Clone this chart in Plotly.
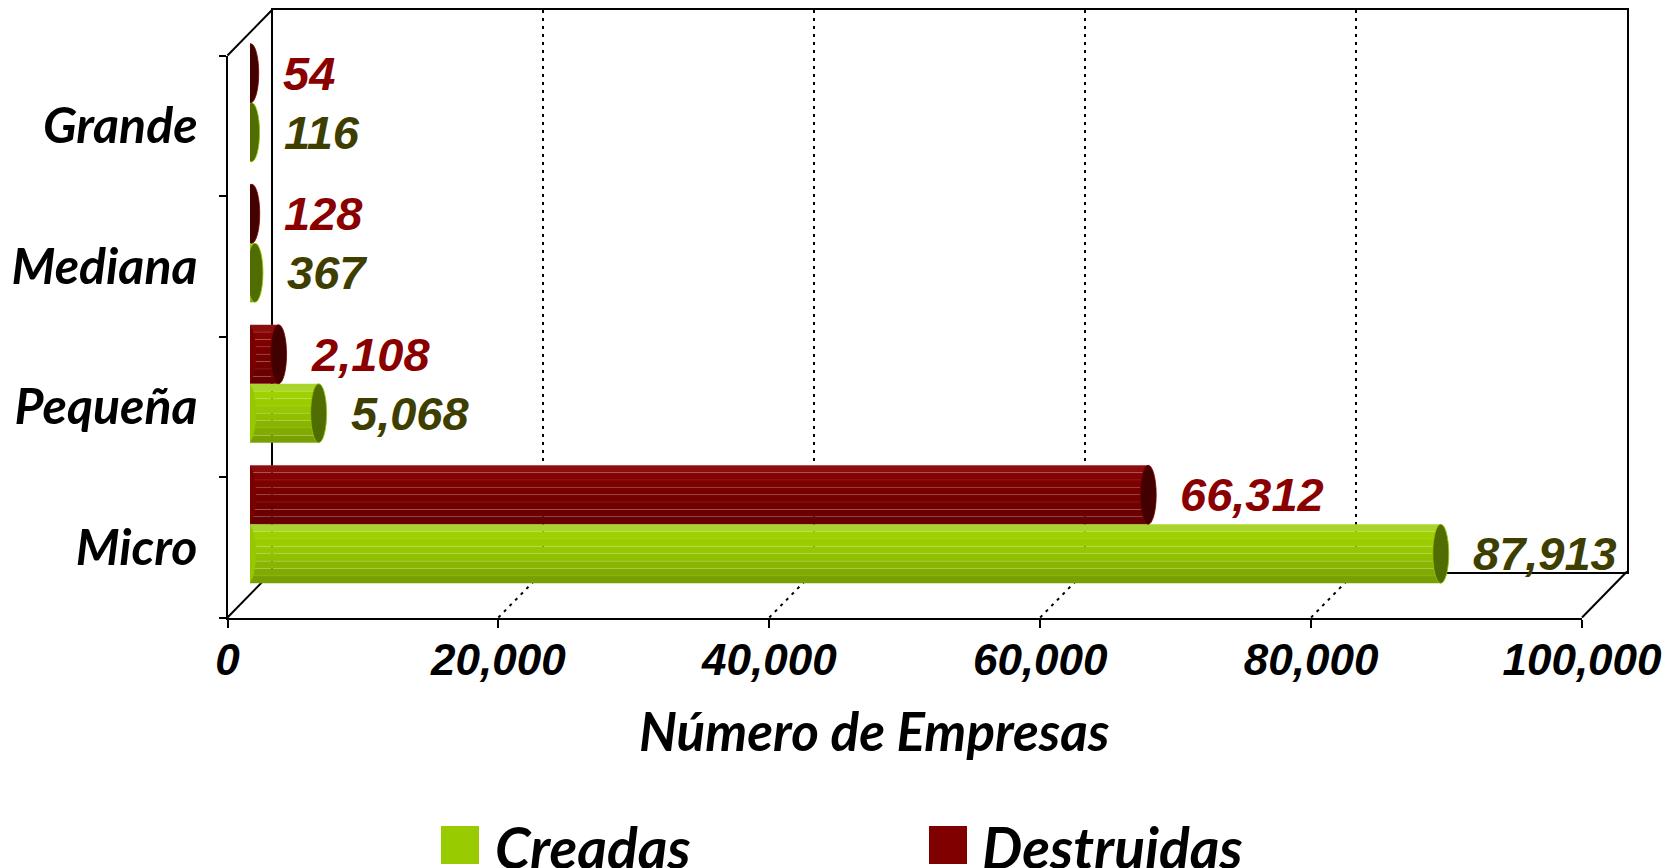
import plotly.graph_objects as go

# ---------------- data ----------------
categories = ["Micro", "Pequeña", "Mediana", "Grande"]
creadas = [87913, 5068, 367, 116]
destruidas = [66312, 2108, 128, 54]
x_ticks = [0, 20000, 40000, 60000, 80000, 100000]
series_names = ["Creadas", "Destruidas"]
x_title = "Número de Empresas"

# ---------------- geometry / style ----------------
W, H = 1675, 868
OFF = 8  # page body margin
def px(x):
    return (x - OFF) / W
def py(y):
    return 1 - (y - OFF) / H

FX0, FX1, FYT, FYB = 227.5, 1582.0, 55.5, 617.5   # front frame (pixels)
DX, DY = 45.0, -46.0                                # depth offset to back plane
MX, MY = DX / 2, DY / 2                             # bars sit mid-depth

GREEN_BANDS = ["#a9d42a", "#9fd000", "#9acc00", "#96c700", "#90bf00", "#89b500", "#81ab00", "#78a000"]
RED_BANDS = ["#8c0d0d", "#840202", "#7e0000", "#790000", "#750000", "#710000", "#6c0000", "#670000"]
GREEN_CAP, RED_CAP = "#4f6d00", "#420000"
GREEN_BODY, RED_BODY = "#95c800", "#7a0000"
GREEN_LABEL, RED_LABEL = "#3e3e00", "#8a0000"

BAR_W = 0.42
LATO = "Lato, 'Open Sans', sans-serif"
ARIAL = "'Liberation Sans', Arial, sans-serif"

fig = go.Figure()

# dummy traces to create the back (x/y) and front (x2/y2) frames
fig.add_trace(go.Scatter(x=[], y=[], xaxis="x", yaxis="y", showlegend=False, hoverinfo="skip"))
fig.add_trace(go.Scatter(x=[0] * len(categories), y=categories, xaxis="x2", yaxis="y2",
                         mode="markers", marker=dict(opacity=0), showlegend=False, hoverinfo="skip"))

# cylinder-like bars built from horizontal colour bands
n = len(GREEN_BANDS)
bw = BAR_W / n
for vals, bands, top in [(creadas, GREEN_BANDS, 0.0), (destruidas, RED_BANDS, BAR_W)]:
    for k, col in enumerate(bands):
        fig.add_trace(go.Bar(
            x=vals, y=categories, orientation="h", xaxis="x3", yaxis="y3",
            width=bw, offset=top - (k + 1) * bw,
            marker=dict(color=col, line=dict(color="rgba(255,255,255,0.13)", width=0.6)),
            showlegend=False, hoverinfo="skip"))

shapes = []
annotations = []

# end caps of cylinders
for vals, body, cap, y_lo in [(creadas, GREEN_BODY, GREEN_CAP, -BAR_W), (destruidas, RED_BODY, RED_CAP, 0.0)]:
    for i, v in enumerate(vals):
        shapes.append(dict(type="circle", xref="x3", yref="y3", xsizemode="pixel", xanchor=0,
                           x0=-10, x1=6, y0=i + y_lo, y1=i + y_lo + BAR_W,
                           fillcolor=body, line=dict(width=0), layer="above"))
        shapes.append(dict(type="circle", xref="x3", yref="y3", xsizemode="pixel", xanchor=v,
                           x0=-8, x1=8, y0=i + y_lo, y1=i + y_lo + BAR_W,
                           fillcolor=cap, line=dict(width=0.8, color=body), layer="above"))

# data labels
for vals, col, ysh in [(creadas, GREEN_LABEL, -29.5), (destruidas, RED_LABEL, 29.5)]:
    for c, v in zip(categories, vals):
        annotations.append(dict(x=v, y=c, xref="x3", yref="y3", text=f"{v:,}", showarrow=False,
                                xanchor="left", yanchor="middle", xshift=30, yshift=ysh,
                                font=dict(family=ARIAL, size=47, color=col, weight="bold", style="italic")))

# 3D frame oblique edges
for (x0, y0) in [(FX0, FYT), (FX0, FYB), (FX1, FYB)]:
    shapes.append(dict(type="line", xref="paper", yref="paper",
                       x0=px(x0), y0=py(y0), x1=px(x0 + DX), y1=py(y0 + DY),
                       line=dict(color="black", width=2), layer="below"))
# dotted floor gridlines from front ticks to back plane
for t in x_ticks[1:-1]:
    shapes.append(dict(type="line", xref="x2", yref="paper", xsizemode="pixel", xanchor=t,
                       x0=0, x1=DX, y0=py(FYB), y1=py(FYB + DY),
                       line=dict(color="black", width=2, dash="3px,5px"), layer="below"))

# axis title
annotations.append(dict(x=px(874), y=py(730), xref="paper", yref="paper", text=x_title,
                        showarrow=False, xanchor="center", yanchor="middle",
                        font=dict(family=LATO, size=53, color="black", weight="bold", style="italic")))

# custom legend (large squares)
for name, col, sx, tx in [(series_names[0], "#99cc00", 441, 493), (series_names[1], "#800000", 929, 980)]:
    shapes.append(dict(type="rect", xref="paper", yref="paper",
                       x0=px(sx), x1=px(sx + 38), y0=py(826), y1=py(864),
                       fillcolor=col, line=dict(width=0)))
    annotations.append(dict(x=px(tx), y=py(847), xref="paper", yref="paper", text=name,
                            showarrow=False, xanchor="left", yanchor="middle",
                            font=dict(family=LATO, size=57, color="black", weight="bold", style="italic")))

fig.update_layout(
    template="none",
    width=W, height=H, autosize=False,
    margin=dict(l=0, r=0, t=0, b=0, pad=0),
    paper_bgcolor="white", plot_bgcolor="rgba(0,0,0,0)",
    barmode="overlay", showlegend=False,
    shapes=shapes, annotations=annotations,
    # back wall
    xaxis=dict(domain=[px(FX0 + DX), px(FX1 + DX)], range=[0, 100000], anchor="y", automargin=False,
               tickvals=x_ticks, showticklabels=False, ticks="",
               showgrid=True, griddash="3px,5px", gridcolor="black", gridwidth=2,
               showline=True, mirror=True, linecolor="black", linewidth=2, zeroline=False),
    yaxis=dict(domain=[py(FYB + DY), py(FYT + DY)], range=[0, 1], anchor="x", automargin=False,
               showticklabels=False, ticks="", showgrid=False,
               showline=True, mirror=True, linecolor="black", linewidth=2, zeroline=False),
    # front frame with tick labels
    xaxis2=dict(domain=[px(FX0), px(FX1)], range=[0, 100000], anchor="y2", automargin=False,
                tickvals=x_ticks, tickformat=",d", ticks="outside", ticklen=8, tickwidth=2,
                tickcolor="black", ticklabelstandoff=-5,
                tickfont=dict(family=ARIAL, size=44, color="black", weight="bold", style="italic"),
                showgrid=False, zeroline=False, showline=True, linecolor="black", linewidth=2),
    yaxis2=dict(domain=[py(FYB), py(FYT)], anchor="x2", type="category", automargin=False,
                categoryorder="array", categoryarray=categories, range=[-0.5, len(categories) - 0.5],
                tickson="boundaries", ticks="outside", ticklen=7, tickwidth=2, tickcolor="black",
                ticklabelstandoff=18,
                tickfont=dict(family=LATO, size=50, color="black", weight="bold", style="italic"),
                showgrid=False, zeroline=False, showline=True, linecolor="black", linewidth=2),
    # bars (mid depth)
    xaxis3=dict(domain=[px(FX0 + MX), px(FX1 + MX)], range=[0, 100000], anchor="y3",
                visible=False, fixedrange=True, automargin=False),
    yaxis3=dict(domain=[py(FYB + MY), py(FYT + MY)], anchor="x3", type="category", automargin=False,
                categoryorder="array", categoryarray=categories, range=[-0.5, len(categories) - 0.5],
                visible=False, fixedrange=True),
)

fig.write_html("out.html")
